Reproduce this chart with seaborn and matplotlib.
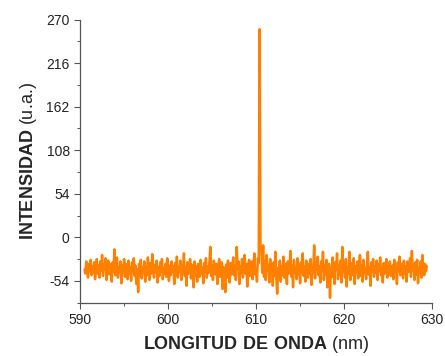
import numpy as np
import pandas as pd
import seaborn as sns
import matplotlib.pyplot as plt
from matplotlib.ticker import MultipleLocator

# wavelength grid (nm), 0.1 nm steps
wl_start = 590.5
wl_step = 0.1

# intensity, one row per nm
intensity = [
    -40, -45, -30, -38, -50, -33, -42, -28, -47, -36,
    -44, -31, -52, -38, -27, -45, -35, -50, -30, -41,
    -22, -48, -34, -40, -26, -53, -37, -29, -46, -33,
    -39, -55, -31, -43, -15, -47, -36, -25, -50, -38,
    -42, -30, -57, -35, -44, -27, -49, -33, -40, -52,
    -29, -45, -37, -54, -31, -42, -26, -48, -35, -58,
    -40, -68, -33, -46, -28, -51, -38, -44, -30, -55,
    -36, -47, -25, -41, -53, -32, -45, -21, -39, -50,
    -34, -43, -29, -56, -37, -48, -31, -42, -27, -52,
    -38, -45, -33, -49, -26, -41, -54, -35, -47, -30,
    -43, -36, -58, -32, -46, -24, -50, -38, -41, -29,
    -53, -35, -44, -20, -48, -37, -60, -31, -45, -39,
    -27, -51, -34, -42, -62, -30, -47, -36, -55, -33,
    -40, -49, -28, -45, -38, -57, -32, -43, -26, -50,
    -36, -44, -30, -12, -48, -35, -53, -29, -41, -46,
    -33, -58, -38, -27, -49, -42, -31, -64, -37, -45,
    -68, -34, -50, -29, -43, -56, -32, -46, -39, -25,
    -47, -35, -53, -12, -40, -30, -58, -36, -44, -27,
    -50, -38, -22, -45, -33, -61, -37, -28, -48, -41,
    -30, -52, -36, -20, -46, -39, -55, -26, -32, 258,
    -15, -18, -44, -10, -49, -30, -53, -22, -41, -35,
    -56, -27, -45, -34, -60, -31, -48, -18, -52, -70,
    -38, -43, -29, -55, -36, -47, -24, -50, -33, -41,
    -58, -30, -45, -37, -17, -49, -35, -62, -28, -44,
    -39, -52, -26, -46, -34, -57, -31, -43, -20, -48,
    -36, -55, -29, -41, -50, -33, -45, -27, -59, -38,
    -44, -10, -51, -32, -40, -24, -47, -36, -56, -30,
    -42, -18, -53, -35, -46, -28, -62, -39, -33, -75,
    -37, -49, -25, -44, -58, -31, -40, -20, -52, -35,
    -46, -29, -56, -12, -43, -34, -50, -27, -61, -38,
    -45, -18, -53, -32, -40, -47, -26, -58, -36, -43,
    -30, -51, -37, -22, -48, -35, -55, -28, -44, -39,
    -52, -33, -18, -46, -38, -60, -31, -42, -27, -49,
    -36, -44, -29, -53, -34, -41, -25, -47, -39, -56,
    -32, -45, -38, -27, -50, -36, -43, -30, -48, -40,
    -35, -52, -28, -44, -37, -58, -31, -42, -24, -47,
    -39, -33, -51, -29, -45, -36, -55, -30, -43, -38,
    -26, -49, -17, -41, -34, -53, -31, -46, -28, -57,
    -37, -44, -30, -50, -22, -39, -47, -33, -42, -36,
]

y_ticks = [-54, 0, 54, 108, 162, 216, 270]
x_ticks = [590, 600, 610, 620, 630]

df = pd.DataFrame({
    'wl': np.round(wl_start + wl_step * np.arange(len(intensity)), 1),
    'I': intensity,
})

sns.set_style('ticks')
plt.rcParams['font.family'] = ['Liberation Sans', 'DejaVu Sans']
plt.rcParams['mathtext.fontset'] = 'custom'
plt.rcParams['mathtext.rm'] = 'Liberation Sans'
plt.rcParams['mathtext.bf'] = 'Liberation Sans:bold'
plt.rcParams['axes.unicode_minus'] = False

fig = plt.figure(figsize=(4.45, 3.56), dpi=100)
ax = fig.add_axes([0.18, 0.15, 0.791, 0.795])

sns.lineplot(data=df, x='wl', y='I', ax=ax, color='#ff8000',
             linewidth=1.8, estimator=None)

ax.set_xlim(590, 630)
ax.set_ylim(-81, 270)
ax.set_xticks(x_ticks)
ax.set_yticks(y_ticks)
ax.xaxis.set_minor_locator(MultipleLocator(5))
ax.yaxis.set_minor_locator(MultipleLocator(27))

for s in ['top', 'right']:
    ax.spines[s].set_visible(False)
for s in ['left', 'bottom']:
    ax.spines[s].set_color('#555555')
    ax.spines[s].set_linewidth(0.9)

ax.tick_params(which='major', direction='out', length=4, width=0.8,
               color='#555555', labelsize=10, labelcolor='#222222')
ax.tick_params(which='minor', direction='out', length=2.5, width=0.7,
               color='#555555')

ax.set_xlabel(r'$\bf{LONGITUD\ DE\ ONDA}$ (nm)', fontsize=13, labelpad=5)
ax.set_ylabel(r'$\bf{INTENSIDAD}$ (u.a.)', fontsize=13, labelpad=5)

plt.savefig('out.png', dpi=100)
